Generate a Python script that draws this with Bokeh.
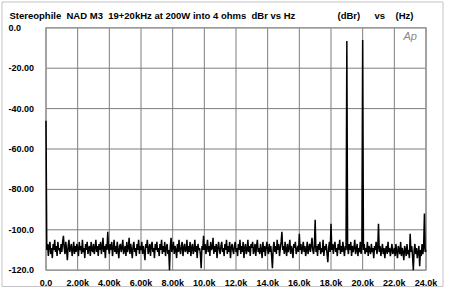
from bokeh.plotting import figure
from bokeh.models import Range1d, Label
from bokeh.core.properties import value
from bokeh.embed import file_html
from bokeh.resources import INLINE

# frequency axis: 0..24 kHz in 50 Hz bins
freq_hz = list(range(0, 24050, 50))

# level in dBr (one row per kHz, 20 bins each)
level_dbr = [
    -46, -110, -107, -113, -108, -106, -112, -109, -114, -107, -110, -105, -111, -108, -113, -106, -110, -109, -112, -107,
    -111, -106, -103, -109, -112, -106, -110, -115, -108, -105, -111, -109, -107, -113, -110, -106, -112, -108, -111, -107,
    -109, -113, -106, -110, -108, -112, -105, -111, -109, -114, -107, -110, -106, -112, -109, -108, -113, -106, -110, -111,
    -107, -112, -109, -105, -111, -108, -113, -107, -110, -106, -112, -109, -104, -111, -108, -114, -107, -110, -101, -109,
    -112, -107, -110, -106, -113, -109, -105, -111, -108, -112, -106, -110, -114, -108, -107, -111, -109, -105, -112, -110,
    -108, -113, -106, -111, -109, -104, -112, -107, -110, -114, -108, -106, -111, -109, -113, -107, -110, -105, -112, -108,
    -110, -106, -112, -108, -111, -115, -107, -109, -105, -112, -110, -107, -113, -108, -106, -111, -109, -114, -107, -110,
    -106, -111, -109, -113, -107, -110, -105, -112, -108, -111, -106, -113, -109, -107, -112, -110, -120, -108, -104, -111,
    -109, -106, -112, -108, -110, -114, -107, -111, -105, -110, -112, -108, -106, -113, -109, -107, -111, -110, -105, -112,
    -108, -111, -106, -113, -109, -107, -112, -110, -105, -111, -108, -114, -107, -110, -109, -112, -119, -108, -110, -103,
    -110, -107, -112, -109, -105, -111, -108, -113, -106, -110, -109, -104, -112, -108, -111, -107, -114, -109, -106, -110,
    -112, -108, -106, -111, -109, -113, -107, -110, -105, -112, -108, -111, -106, -114, -109, -107, -110, -112, -108, -106,
    -111, -109, -113, -107, -110, -105, -112, -108, -111, -106, -114, -109, -107, -112, -110, -105, -111, -108, -113, -107,
    -109, -106, -112, -110, -107, -113, -108, -105, -111, -109, -112, -107, -110, -114, -106, -111, -108, -113, -109, -106,
    -110, -112, -107, -111, -108, -113, -119, -109, -106, -111, -108, -112, -105, -110, -107, -113, -109, -106, -101, -110,
    -108, -112, -106, -110, -113, -107, -111, -109, -105, -112, -108, -110, -114, -107, -109, -106, -112, -110, -108, -111,
    -102, -110, -107, -112, -109, -106, -111, -108, -113, -110, -106, -112, -109, -107, -111, -108, -104, -110, -112, -108,
    -95, -111, -108, -113, -107, -110, -106, -112, -109, -111, -105, -113, -108, -110, -107, -112, -116, -109, -106, -111,
    -97, -110, -107, -112, -108, -106, -111, -109, -113, -107, -110, -105, -112, -108, -111, -106, -110, -113, -108, -110,
    -6.5, -109, -112, -107, -110, -106, -113, -108, -111, -109, -105, -112, -110, -107, -113, -109, -111, -106, -112, -108,
    -6, -110, -107, -112, -109, -111, -106, -113, -108, -110, -112, -107, -111, -109, -114, -108, -110, -106, -112, -109,
    -97, -111, -108, -113, -110, -107, -112, -109, -114, -110, -108, -112, -106, -111, -109, -113, -110, -107, -112, -111,
    -109, -113, -107, -111, -114, -108, -110, -112, -106, -113, -109, -111, -115, -108, -110, -113, -107, -112, -110, -114,
    -102, -111, -108, -113, -120, -110, -107, -112, -109, -114, -111, -108, -118, -110, -113, -107, -112, -109, -92, -111,
    -110,
]

x_ticks = [0, 2000, 4000, 6000, 8000, 10000, 12000, 14000, 16000, 18000, 20000, 22000, 24000]
x_tick_labels = ["0.0", "2.00k", "4.00k", "6.00k", "8.00k", "10.0k", "12.0k",
                 "14.0k", "16.0k", "18.0k", "20.0k", "22.0k", "24.0k"]
y_ticks = [0, -20, -40, -60, -80, -100, -120]
y_tick_labels = ["0.0", "-20.00", "-40.00", "-60.00", "-80.00", "-100.0", "-120.0"]

title_text = "Stereophile\u00a0\u00a0NAD M3\u00a0\u00a019+20kHz at 200W into 4 ohms\u00a0\u00a0dBr vs Hz"
unit_texts = ["(dBr)", "vs", "(Hz)"]

FONT = "Liberation Sans"
W, H = 450, 293

# --- layout: where the 0..24k / -120..0 data box sits on the canvas (pixels) ---
X_MIN, X_MAX = x_ticks[0], x_ticks[-1]
Y_MIN, Y_MAX = y_ticks[-1], y_ticks[0]
FL, FR, FT, FB = 45.5, 425.5, 27.3, 269.7
hz_per_px = (X_MAX - X_MIN) / (FR - FL)
db_per_px = (Y_MAX - Y_MIN) / (FB - FT)
x0 = X_MIN - FL * hz_per_px
x1 = x0 + W * hz_per_px
y1 = Y_MAX + FT * db_per_px
y0 = y1 - H * db_per_px


def px_x(px):
    return x0 + px * hz_per_px


def px_y(py):
    return y1 - py * db_per_px


p = figure(width=W, height=H, output_backend="svg", toolbar_location=None,
           x_range=Range1d(x0, x1), y_range=Range1d(y0, y1),
           min_border=0, min_border_left=0, min_border_right=0,
           min_border_top=0, min_border_bottom=0)
p.xaxis.visible = False
p.yaxis.visible = False
p.xgrid.visible = False
p.ygrid.visible = False
p.outline_line_color = None
p.background_fill_color = "white"
p.border_fill_color = "white"

# faint outer border of the picture
p.quad(left=[px_x(1.5)], right=[px_x(442.5)], top=[px_y(1.5)], bottom=[px_y(286)],
       fill_color=None, line_color="#c4c4c4", line_width=1)

# grid lines at the tick positions
GRID = "#7d7d7d"
p.segment(x0=x_ticks, y0=[Y_MIN] * len(x_ticks), x1=x_ticks, y1=[Y_MAX] * len(x_ticks),
          line_color=GRID, line_width=1)
p.segment(x0=[X_MIN] * len(y_ticks), y0=y_ticks, x1=[X_MAX] * len(y_ticks), y1=y_ticks,
          line_color=GRID, line_width=1)
# plot frame
p.quad(left=[X_MIN], right=[X_MAX], top=[Y_MAX], bottom=[Y_MIN],
       fill_color=None, line_color="#9a9a9a", line_width=1.5)

# spectrum
p.line(freq_hz, level_dbr, line_color="black", line_width=1.5)

# tick labels
p.text(x=x_ticks, y=[px_y(282)] * len(x_ticks), text=x_tick_labels,
       text_align="center", text_baseline="middle", text_font=value(FONT),
       text_font_style="bold", text_font_size="9px", text_color="black")
p.text(x=[px_x(8)] * len(y_ticks), y=y_ticks, text=y_tick_labels,
       text_align="left", text_baseline="middle", text_font=value(FONT),
       text_font_style="bold", text_font_size="9px", text_color="black")

# header texts
p.add_layout(Label(x=px_x(9), y=px_y(14.5), text=title_text, text_align="left",
                   text_baseline="middle", text_font=FONT, text_font_style="bold",
                   text_font_size="9.5px", text_color="black"))
for xpx, t in zip([337, 374, 395], unit_texts):
    p.add_layout(Label(x=px_x(xpx), y=px_y(14.5), text=t, text_align="left",
                       text_baseline="middle", text_font=FONT, text_font_style="bold",
                       text_font_size="9.5px", text_color="black"))

p.add_layout(Label(x=px_x(403), y=px_y(35), text="Ap", text_align="left",
                   text_baseline="middle", text_font=FONT, text_font_style="italic",
                   text_font_size="11px", text_color="#8a8a8a"))

open("out.html", "w").write(file_html(p, INLINE))
